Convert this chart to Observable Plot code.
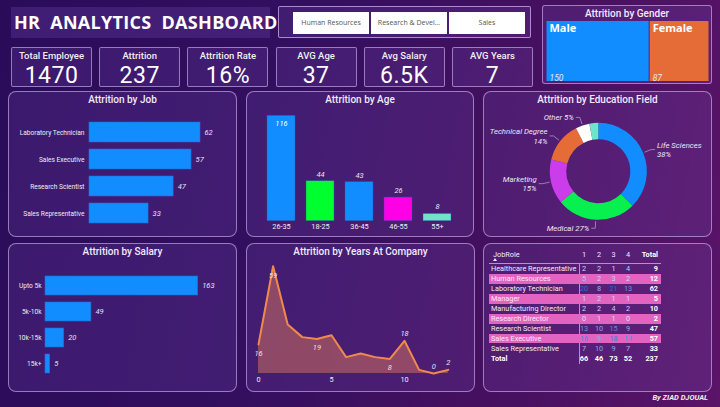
<!DOCTYPE html>
<html><head><meta charset="utf-8">
<script src="https://cdn.jsdelivr.net/npm/d3@7"></script>
<script src="https://cdn.jsdelivr.net/npm/@observablehq/plot@0.6"></script>
<style>
html,body{margin:0;padding:0;background:#2b0c5b;}
body{width:720px;height:407px;overflow:hidden;font-family:"Open Sans",sans-serif;}
#dash{position:relative;width:720px;height:407px;background:linear-gradient(100deg,#2a0b5a 0%,#340f60 40%,#45105f 70%,#5a1468 100%);overflow:hidden;}
.box{position:absolute;box-sizing:border-box;}
.panel{border:1px solid rgba(210,190,240,0.6);border-radius:8px;background:rgba(125,85,190,0.2);}
.ptitle{position:absolute;left:0;right:0;top:1px;text-align:center;font:500 10px Roboto,sans-serif;color:#f2eafc;line-height:14px;}
.card{border:1px solid rgba(210,190,240,0.6);border-radius:2px;background:rgba(125,85,190,0.2);text-align:center;color:#fff;}
.card .lab{position:absolute;left:0;right:0;top:1px;font:500 9.5px Roboto,sans-serif;color:#eee;line-height:14px;}
.card .val{position:absolute;left:0;right:0;top:15px;font:400 23px Roboto,sans-serif;color:#fff;line-height:26px;letter-spacing:0.5px;}
.btn{position:absolute;top:5px;height:22px;width:76px;background:#fff;color:#555;font:7px "Open Sans",sans-serif;line-height:22px;text-align:center;}
.plot{position:absolute;}
.trow{position:absolute;left:489px;width:172px;height:9.5px;font:7.3px Roboto,sans-serif;line-height:9.5px;}
.trow span{position:absolute;top:0;}
</style></head>
<body><div id="dash"></div>
<script>
// ---------- data ----------
const dashTitle = "HR  ANALYTICS  DASHBOARD";
const departments = ["Human Resources", "Research & Devel...", "Sales"];
const kpiLabels = ["Total Employee", "Attrition", "Attrition Rate", "AVG Age", "Avg Salary", "AVG Years"];
const kpiValues = ["1470", "237", "16%", "37", "6.5K", "7"];
const genders = ["Male", "Female"];
const genderValues = [150, 87];
const genderColors = ["#118DFF", "#E66C37"];
const jobRoles = ["Laboratory Technician", "Sales Executive", "Research Scientist", "Sales Representative"];
const jobValues = [62, 57, 47, 33];
const ageGroups = ["26-35", "18-25", "36-45", "46-55", "55+"];
const ageValues = [116, 44, 43, 26, 8];
const ageColors = ["#118DFF", "#00FF2E", "#118DFF", "#FF00E6", "#6FE3CB"];
const eduFields = ["Life Sciences", "Medical", "Marketing", "Technical Degree", "Other", "Human Resources"];
const eduValues = [89, 63, 35, 32, 11, 7];
const eduColors = ["#118DFF", "#08F050", "#CB3CEB", "#E66C37", "#FFFFFF", "#6FE3CB"];
const salaryBands = ["Upto 5k", "5k-10k", "10k-15k", "15k+"];
const salaryValues = [163, 49, 20, 5];
const yearsAtCompany = [0,1,2,3,4,5,6,7,8,9,10,11,12,13];
const yearValues = [16,59,27,20,19,21,9,11,9,8,18,2,0,2];
const yearLabelsBelow = [0,1,4,9];
const yearLabelsAbove = [10,12,13];
const tableRoles = ["Healthcare Representative","Human Resources","Laboratory Technician","Manager","Manufacturing Director","Research Director","Research Scientist","Sales Executive","Sales Representative"];
const tableCols = ["1","2","3","4"];
const tableValues = [[2,2,1,4],[5,2,3,2],[20,8,21,13],[1,2,1,1],[2,2,4,2],[0,1,1,0],[13,10,15,9],[16,9,18,14],[7,10,9,7]];
const author = "By ZIAD DJOUAL";

// ---------- helpers ----------
const dash = document.getElementById("dash");
function el(tag, cls, style, html) {
  const e = document.createElement(tag);
  if (cls) e.className = cls;
  if (style) e.style.cssText = style;
  if (html != null) e.innerHTML = html;
  return e;
}
function panel(x, y, w, h, title) {
  const p = el("div", "box panel", `left:${x}px;top:${y}px;width:${w}px;height:${h}px;`);
  if (title) p.appendChild(el("div", "ptitle", "", title));
  dash.appendChild(p);
  return p;
}
function place(svg, x, y) {
  const w = el("div", "plot", `left:${x}px;top:${y}px;`);
  w.appendChild(svg);
  dash.appendChild(w);
}
const baseStyle = {background: "transparent", color: "#eee", fontFamily: "Roboto, sans-serif", fontSize: "6.6px", overflow: "visible"};

// ---------- header ----------
dash.appendChild(el("div", "box", "left:11px;top:7px;width:259px;height:31px;background:rgba(125,85,190,0.25);"));
dash.appendChild(el("div", "box", "left:14px;top:7px;width:256px;height:31px;color:#fff;font:bold 18px 'Open Sans',sans-serif;line-height:31px;white-space:pre;letter-spacing:0.3px;", dashTitle));
const slicer = el("div", "box", "left:278px;top:6px;width:253px;height:32px;border:1px solid rgba(210,190,240,0.7);border-radius:2px;background:rgba(125,85,190,0.2);");
departments.forEach((d, i) => slicer.appendChild(el("div", "btn", `left:${14 + i * 78}px;`, d)));
dash.appendChild(slicer);

kpiLabels.forEach((l, i) => {
  const c = el("div", "box card", `left:${11 + i * 88.2}px;top:47px;width:81px;height:40px;`);
  c.appendChild(el("div", "lab", "", l));
  c.appendChild(el("div", "val", "", kpiValues[i]));
  dash.appendChild(c);
});

// ---------- gender ----------
const gbox = el("div", "box", "left:542px;top:5px;width:170px;height:79px;border:1px solid rgba(210,190,240,0.6);border-radius:3px;background:rgba(125,85,190,0.2);");
gbox.appendChild(el("div", "ptitle", "top:1px;", "Attrition by Gender"));
dash.appendChild(gbox);
const genderData = genders.map((g, i) => ({gender: g, value: genderValues[i]}));
place(Plot.plot({
  width: 163, height: 60, margin: 0,
  style: baseStyle,
  x: {domain: [0, d3.sum(genderValues)], axis: null},
  color: {domain: genders, range: genderColors},
  marks: [
    Plot.barX(genderData, Plot.stackX({x: "value", fill: "gender", insetRight: 0.5, insetLeft: 0.5})),
    Plot.text(genderData, Plot.stackX1({x: "value", text: "gender", frameAnchor: "top", lineAnchor: "top", dy: 3, dx: 3, textAnchor: "start", fill: "#fff", fontWeight: "bold", fontSize: 11, fontFamily: "'Open Sans',sans-serif"})),
    Plot.text(genderData, Plot.stackX1({x: "value", text: "value", frameAnchor: "bottom", lineAnchor: "bottom", dy: -1, dx: 3, textAnchor: "start", fill: "#e8e8f0", fontStyle: "italic", fontSize: 8.5}))
  ]
}), 546, 21);

// ---------- panels ----------
panel(8, 91, 229, 146, "Attrition by Job");
panel(246, 91, 228, 146, "Attrition by Age");
panel(483, 91, 229, 146, "Attrition by Education Field");
panel(8, 243, 229, 149, "Attrition by Salary");
panel(246, 243, 229, 149, "Attrition by Years At Company");
panel(483, 243, 229, 149, null);

// ---------- job ----------
const jobData = jobRoles.map((j, i) => ({job: j, value: jobValues[i]}));
place(Plot.plot({
  width: 229, height: 120, marginTop: 10.5, marginBottom: 1.5, marginLeft: 81, marginRight: 37,
  style: baseStyle,
  x: {domain: [0, d3.max(jobValues)], axis: null},
  y: {domain: jobRoles, tickSize: 0, tickPadding: 5, label: null, paddingInner: 0.26, paddingOuter: 0.13},
  marks: [
    Plot.barX(jobData, {x: "value", y: "job", fill: "#118DFF", stroke: "#2a66c8", strokeWidth: 0.6}),
    Plot.text(jobData, {x: "value", y: "job", text: "value", dx: 4, textAnchor: "start", fill: "#e6e0f0", fontStyle: "italic", fontSize: 7.5})
  ]
}), 8, 108);

// ---------- age ----------
const ageData = ageGroups.map((a, i) => ({age: a, value: ageValues[i], color: ageColors[i]}));
const ageMax = d3.max(ageValues);
place(Plot.plot({
  width: 227, height: 128, marginTop: 7.3, marginBottom: 15.3, marginLeft: 15.5, marginRight: 16.5,
  style: {...baseStyle, fontSize: "7.3px"},
  x: {domain: ageGroups, tickSize: 0, tickPadding: 3, label: null, paddingInner: 0.28, paddingOuter: 0.14},
  y: {domain: [0, ageMax], axis: null},
  color: {type: "identity"},
  marks: [
    Plot.barY(ageData, {x: "age", y: "value", fill: "color", stroke: "#2a55a8", strokeWidth: 0.4}),
    Plot.text(ageData.filter(d => d.value <= 0.85 * ageMax), {x: "age", y: "value", text: "value", dy: -7, fill: "#e6e0f0", fontStyle: "italic", fontSize: 7.5}),
    Plot.text(ageData.filter(d => d.value > 0.85 * ageMax), {x: "age", y: "value", text: "value", dy: 8, fill: "#fff", fontStyle: "italic", fontSize: 7.5})
  ]
}), 246, 108);

// ---------- education donut ----------
const eduData = eduFields.map((f, i) => ({field: f, value: eduValues[i], color: eduColors[i]}));
const eduTotal = d3.sum(eduValues);
function donut(index, scales, values, dims) {
  const W = dims.width, H = dims.height;
  const g = d3.create("svg:g").attr("transform", `translate(${W / 2 + 1.3},${H / 2 - 0.7})`);
  const arcs = d3.pie().sort(null).value(d => d.value)(eduData);
  const arc = d3.arc().innerRadius(32).outerRadius(48.5);
  g.selectAll("path.s").data(arcs).join("path").attr("class", "s").attr("d", arc).attr("fill", d => d.data.color);
  arcs.forEach(a => {
    const pct = Math.round(a.data.value / eduTotal * 100);
    if (pct < 4) return;
    const m = (a.startAngle + a.endAngle) / 2;
    const s = Math.sin(m), c = -Math.cos(m);
    const side = s >= 0 ? 1 : -1;
    const p1 = [50 * s, 50 * c], p2 = [57 * s, 57 * c], p3 = [p2[0] + 4 * side, p2[1]];
    g.append("polyline").attr("points", [p1, p2, p3].map(p => p.join(",")).join(" "))
      .attr("fill", "none").attr("stroke", "#a898c0").attr("stroke-width", 0.8);
    const t = g.append("text").attr("x", p3[0] + 2 * side).attr("y", p3[1])
      .attr("text-anchor", side > 0 ? "start" : "end").attr("fill", "#ece4f6")
      .attr("font-style", "italic").attr("font-size", 7.8).attr("font-family", "Roboto, sans-serif");
    if (Math.abs(Math.cos(m)) > 0.9) {
      t.attr("dy", "0.32em").text(`${a.data.field} ${pct}%`);
    } else {
      t.append("tspan").attr("x", p3[0] + 2 * side).attr("dy", "-0.2em").text(a.data.field);
      t.append("tspan").attr("x", p3[0] + 2 * side).attr("dy", "1.2em").text(`${pct}%`);
    }
  });
  return g.node();
}
place(Plot.plot({
  width: 228, height: 128, margin: 0,
  style: baseStyle,
  x: {domain: [-1, 1], axis: null}, y: {domain: [-1, 1], axis: null},
  marks: [donut]
}), 483, 108);

// ---------- salary ----------
const salData = salaryBands.map((b, i) => ({band: b, value: salaryValues[i]}));
place(Plot.plot({
  width: 228, height: 125, marginTop: 9.3, marginBottom: 8.6, marginLeft: 37, marginRight: 38.3,
  style: baseStyle,
  x: {domain: [0, d3.max(salaryValues)], axis: null},
  y: {domain: salaryBands, tickSize: 0, tickPadding: 4, label: null, paddingInner: 0.28, paddingOuter: 0.14},
  marks: [
    Plot.barX(salData, {x: "value", y: "band", fill: "#118DFF", stroke: "#2a66c8", strokeWidth: 0.6}),
    Plot.text(salData, {x: "value", y: "band", text: "value", dx: 4, textAnchor: "start", fill: "#e6e0f0", fontStyle: "italic", fontSize: 7.5})
  ]
}), 8, 262);

// ---------- years ----------
const yearData = yearsAtCompany.map((y, i) => ({year: y, value: yearValues[i]}));
place(Plot.plot({
  width: 229, height: 130, marginTop: 7.7, marginBottom: 15, marginLeft: 12, marginRight: 27.2,
  style: {...baseStyle, fontSize: "7.3px"},
  x: {domain: [0, d3.max(yearsAtCompany)], ticks: [0, 5, 10], tickSize: 0, tickPadding: 3, label: null},
  y: {domain: [0, d3.max(yearValues)], axis: null},
  marks: [
    Plot.areaY(yearData, {x: "year", y: "value", fill: "#e8805a", fillOpacity: 0.45}),
    Plot.lineY(yearData, {x: "year", y: "value", stroke: "#F08A4B", strokeWidth: 2}),
    Plot.text(yearData.filter(d => yearLabelsBelow.includes(d.year)), {x: "year", y: "value", text: "value", dy: 9, fill: "#e6e0f0", fontStyle: "italic", fontSize: 7.5}),
    Plot.text(yearData.filter(d => yearLabelsAbove.includes(d.year)), {x: "year", y: "value", text: "value", dy: -7, fill: "#e6e0f0", fontStyle: "italic", fontSize: 7.5})
  ]
}), 246, 258);

// ---------- table ----------
const numColor = d3.scaleLinear().domain([0, d3.max(tableValues.flat())]).range(["#e2dcf8", "#1f6ad8"]).interpolate(d3.interpolateRgb);
const colX = [584, 599, 613.5, 628];
function trow(top, cells, opts) {
  const r = el("div", "trow", `top:${top}px;` + (opts.bg ? `background:${opts.bg};` : ""));
  r.appendChild(el("span", "", `left:2px;color:${opts.nameColor};font-weight:${opts.bold ? "bold" : "normal"};`, cells.name));
  cells.nums.forEach((v, j) => {
    r.appendChild(el("span", "", `left:${colX[j] - 489 - 10}px;width:20px;text-align:center;color:${opts.numColor ? opts.numColor(v) : "#fff"};font-weight:${opts.bold ? "bold" : "normal"};`, String(v)));
  });
  r.appendChild(el("span", "", `right:3px;color:#fff;font-weight:bold;`, String(cells.total)));
  dash.appendChild(r);
}
const hdr = el("div", "trow", "top:250px;height:11px;");
hdr.appendChild(el("span", "", "left:4px;color:#f0eaf8;", "JobRole"));
tableCols.forEach((c, j) => hdr.appendChild(el("span", "", `left:${colX[j] - 489 - 10}px;width:20px;text-align:center;color:#f0eaf8;`, c)));
hdr.appendChild(el("span", "", "right:3px;color:#fff;font-weight:bold;", "Total"));
dash.appendChild(hdr);
dash.appendChild(el("div", "box", "left:493px;top:258px;width:0;height:0;border-left:2.5px solid transparent;border-right:2.5px solid transparent;border-bottom:3px solid #f0eaf8;"));
dash.appendChild(el("div", "box", "left:489px;top:262.5px;width:172px;height:0.8px;background:#a898c8;"));
dash.appendChild(el("div", "box", "left:579px;top:263px;width:0.8px;height:101px;background:#a898c8;"));
tableRoles.forEach((role, i) => {
  const pink = i % 2 === 1;
  trow(264.2 + i * 9.97, {name: role, nums: tableValues[i], total: d3.sum(tableValues[i])},
    {bg: pink ? "#e264c0" : null, nameColor: pink ? "#fde6f6" : "#f0eaf8", numColor: numColor});
});
const colTotals = tableCols.map((c, j) => d3.sum(tableValues, r => r[j]));
trow(264.2 + 9 * 9.97, {name: "Total", nums: colTotals, total: d3.sum(colTotals)}, {nameColor: "#fff", bold: true});

// ---------- footer ----------
dash.appendChild(el("div", "box", "right:12px;top:393px;color:#eee;font:italic bold 7.5px Roboto,sans-serif;", author));
</script>
</body></html>
